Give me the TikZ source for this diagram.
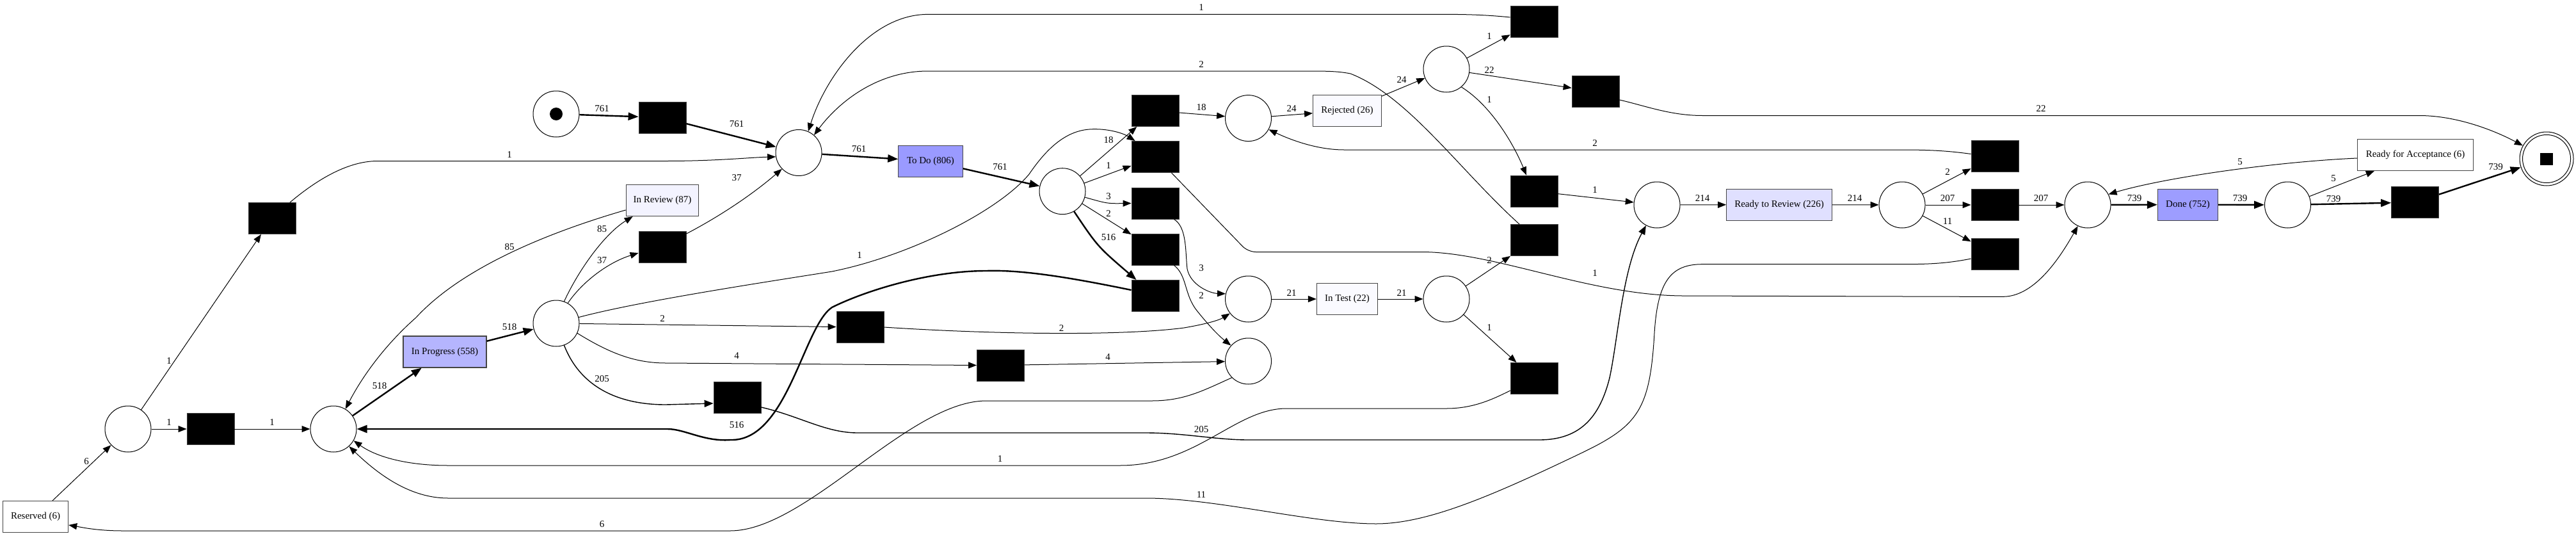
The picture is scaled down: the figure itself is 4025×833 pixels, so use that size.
\documentclass[tikz,border=0pt]{standalone}
\usepackage{fontspec}
\setmainfont{Liberation Serif}
\usetikzlibrary{arrows.meta}
\definecolor{cTodo}{HTML}{9A9AFF}
\definecolor{cDone}{HTML}{9D9DFF}
\definecolor{cProg}{HTML}{B5B5FE}
\definecolor{cRtr}{HTML}{E0E0FF}
\definecolor{cRev}{HTML}{F3F3FF}
\definecolor{cRej}{HTML}{FAFAFF}
\definecolor{cBorder}{HTML}{444444}
\tikzset{
  lblfont/.style={font=\fontsize{15}{18}\selectfont},
  place/.style={circle, draw=black, line width=1pt, minimum size=72pt, inner sep=0pt, fill=white},
  trans/.style={rectangle, fill=black, draw=black!75, line width=0.8pt, minimum width=74pt, minimum height=49pt, inner sep=0pt},
  act/.style={rectangle, draw=cBorder, line width=1.2pt, minimum height=49pt, inner sep=0pt, lblfont},
  lbl/.style={inner sep=0pt, lblfont},
  e/.style={draw=black, line width=1pt, -{Triangle[length=13pt,width=10pt]}},
  em/.style={draw=black, line width=1.4pt, -{Triangle[length=14pt,width=11pt]}},
  E/.style={draw=black, line width=2.4pt, -{Triangle[length=16pt,width=12pt]}},
}
\begin{document}
\begin{tikzpicture}[x=1pt,y=-1pt]
\useasboundingbox[fill=white] (0,0) rectangle (4025,833);

% places
\node[place] (start) at (869,178) {};
\node[circle, fill=black, minimum size=20pt, inner sep=0pt] (startdot) at (start) {};
\node[place] (pa) at (1248,238.5) {};
\node[place] (pc) at (1660,298.7) {};
\node[place] (prej) at (1950.5,184.6) {};
\node[place] (ptest) at (1950.5,467) {};
\node[place] (p4) at (1950.5,564) {};
\node[place] (prj2) at (2260,108) {};
\node[place] (pit) at (2260,467) {};
\node[place] (prr) at (2589,320) {};
\node[place] (prr2) at (2972,320) {};
\node[place] (pdone) at (3262,320) {};
\node[place] (pd2) at (3574.5,320) {};
\node[place] (pres) at (200,670) {};
\node[place] (pip) at (521,670) {};
\node[place] (pb) at (869,505) {};
\node[circle, draw=black, line width=1pt, minimum size=84pt, inner sep=0pt] (pend) at (3979,248) {};
\node[circle, draw=black, line width=1pt, minimum size=75pt, inner sep=0pt] (pendin) at (pend) {};
\node[rectangle, fill=black, minimum width=20pt, minimum height=19pt, inner sep=0pt] (pendsq) at (pend) {};

% silent transitions
\node[trans] (tstart) at (1035,183.5) {};
\node[trans] (tr1) at (1805,173) {};
\node[trans] (tr2) at (1805,245) {};
\node[trans] (tr3) at (1805,317.5) {};
\node[trans] (tr4) at (1805,389.5) {};
\node[trans] (t516) at (1805,462) {};
\node[trans] (ttop) at (2397,34) {};
\node[trans] (t22) at (2493,143) {};
\node[trans] (trj1) at (2397,298.5) {};
\node[trans] (titup) at (2397,375) {};
\node[trans] (titlow) at (2397,591) {};
\node[trans] (trrup) at (3117,243.5) {};
\node[trans] (trrmid) at (3117,320) {};
\node[trans] (trrlow) at (3117,397) {};
\node[trans] (tend) at (3773.5,316) {};
\node[trans] (t1) at (425,341) {};
\node[trans] (t2) at (329,670) {};
\node[trans] (t37) at (1035,386) {};
\node[trans] (t2b) at (1344,511) {};
\node[trans] (t4) at (1563.5,570.5) {};
\node[trans] (t205) at (1152,621) {};

% labelled transitions
\node[act, fill=cTodo, minimum width=100.4pt] (todo) at (1454,251.7) {To Do (806)};
\node[act, fill=cProg, minimum width=130pt] (inprog) at (695,549.5) {In Progress (558)};
\node[act, fill=cRev, minimum width=113.4pt] (inreview) at (1035,313) {In Review (87)};
\node[act, fill=cRej, minimum width=106.7pt] (rejected) at (2105,172.7) {Rejected (26)};
\node[act, fill=cRej, minimum width=95pt] (intest) at (2105,467) {In Test (22)};
\node[act, fill=cRtr, minimum width=164.5pt] (rtr) at (2780,319.6) {Ready to Review (226)};
\node[act, fill=cDone, minimum width=94.2pt] (done) at (3418.5,319.6) {Done (752)};
\node[act, fill=white, minimum width=180.5pt] (rfa) at (3774,242) {Ready for Acceptance (6)};
\node[act, fill=white, minimum width=102pt] (reserved) at (55.6,807) {Reserved (6)};

% arcs
\draw[E] (start) -- (tstart);
\draw[E] (tstart) -- (pa);
\draw[E] (pa) -- (todo);
\draw[E] (todo) -- (pc);
\draw[e] (pc) -- (tr1);
\draw[e] (pc) -- (tr2);
\draw[e] (pc.-15) .. controls (1730,318) .. (tr3.west);
\draw[e] (pc) -- (tr4);
\draw[E] (pc.-60) .. controls (1715,385) .. ([xshift=8pt]t516.north west);
\draw[e] (tr1) -- (prej);
\draw[e, rounded corners=12pt] ([xshift=-12pt]tr2.south east) -- (1950,393.5) -- (2209,393.5) .. controls (2330,393.5) and (2470,455) .. (2620,462) -- (3118,463.4) .. controls (3180,463) and (3220,400) .. (pdone.-115);
\draw[e] ([xshift=-8pt]tr3.south east) .. controls (1855,355) and (1852,395) .. (1855,420) .. controls (1860,445) and (1890,458) .. (ptest.167);
\draw[e] ([xshift=-8pt]tr4.south east) .. controls (1855,430) and (1850,460) .. (1870,485) .. controls (1890,510) and (1905,525) .. (p4.138);
\draw[E] ([yshift=9pt]t516.west) .. controls (1680,435) and (1600,421) .. (1541,423) .. controls (1450,423) and (1350,455) .. (1300,480) .. controls (1255,510) and (1230,690) .. (1141,687) .. controls (1100,690) and (1070,670) .. (1043,670) -- (pip.east);
\draw[e] (pb.15) .. controls (1000,470) and (1200,440) .. (1300,424) .. controls (1420,400) and (1560,330) .. (1608,272) .. controls (1630,240) and (1660,205) .. (1702,202) .. controls (1730,200) and (1755,208) .. ([xshift=6pt]tr2.north west);
\draw[e] (pb.70) .. controls (905,420) and (945,365) .. ([xshift=11pt]inreview.south west);
\draw[e] (pb.60) .. controls (910,440) and (950,410) .. ([yshift=-9pt]t37.west);
\draw[e] ([yshift=-4pt]t37.north east) .. controls (1130,335) and (1180,300) .. (pa.-136);
\draw[e] ([yshift=-15pt]inreview.west) .. controls (850,365) and (720,420) .. (650,496) .. controls (600,540) and (565,590) .. (pip.59);
\draw[E] (pip) -- (inprog);
\draw[E] (inprog) -- (pb);
\draw[e] (pb) -- (t2b);
\draw[e] (pb.-25) .. controls (950,550) and (990,567) .. (1040,567) -- (t4.west);
\draw[em] (pb.-70) .. controls (905,600) and (960,632) .. (1040,632) -- ([yshift=-9pt]t205.west);
\draw[em] ([yshift=-15pt]t205.east) .. controls (1250,650) and (1290,676) .. (1340,676) -- (1790,676) .. controls (1850,676) and (1900,687) .. (1950,687) -- (2405,687) .. controls (2470,687) and (2500,650) .. (2515,590) .. controls (2528,530) and (2535,420) .. (prr.-118);
\draw[e] (t2b.east) .. controls (1550,522) and (1750,525) .. (1850,512) .. controls (1885,506) and (1905,500) .. (ptest.-142);
\draw[e] (t4) -- (p4);
\draw[e] (p4.-135) .. controls (1880,610) and (1850,626) .. (1800,626) -- (1541,626) .. controls (1420,626) and (1260,829) .. (1141,829) -- (192,829) .. controls (150,829) and (125,823) .. ([yshift=-13pt]reserved.east);
\draw[e] (reserved) -- (pres);
\draw[e] (pres) -- (t1);
\draw[e] (pres) -- (t2);
\draw[e] (t2) -- (pip);
\draw[e] ([xshift=28pt]t1.north) .. controls (490,285) and (540,251.5) .. (590,251.5) -- (1040,251.5) .. controls (1120,251.5) and (1170,246) .. (pa.190);
\draw[e] ([yshift=7pt]ttop.west) .. controls (2330,24) and (2300,22.4) .. (2262,22.4) -- (1450,22.4) .. controls (1360,22.4) and (1290,120) .. (pa.66);
\draw[e] ([xshift=-23pt]titup.north) .. controls (2280,265) and (2200,150) .. (2110,115) .. controls (2090,111) and (2070,111) .. (2040,111) -- (1450,111) .. controls (1370,111) and (1310,160) .. (pa.49);
\draw[e] (prej) -- (rejected);
\draw[e] (rejected) -- (prj2);
\draw[e] (prj2) -- (ttop);
\draw[e] (prj2) -- (t22);
\draw[e] (prj2.-50) .. controls (2330,165) and (2365,225) .. ([xshift=-12pt]trj1.north);
\draw[e] ([yshift=-13pt]t22.east) .. controls (2570,165) and (2610,180.5) .. (2660,180.5) -- (3780,180.5) .. controls (3840,180.5) and (3900,205) .. (pend.151);
\draw[e] (trj1) -- (prr);
\draw[e] (ptest) -- (intest);
\draw[e] (intest) -- (pit);
\draw[e] (pit) -- (titup);
\draw[e] (pit) -- (titlow);
\draw[e] ([yshift=-19pt]titlow.west) .. controls (2330,625) and (2300,638) .. (2260,638) -- (2010,638) .. controls (1930,638) and (1870,727) .. (1750,727) -- (700,727) .. controls (640,727) and (590,715) .. (pip.-30);
\draw[e] ([yshift=-7pt]trrlow.west) .. controls (3040,412) and (3010,412.7) .. (2970,412.7) -- (2660,412.7) .. controls (2610,412.7) and (2590,440) .. (2585,520) .. controls (2578,640) and (2560,665) .. (2470,708) .. controls (2330,775) and (2230,818) .. (2150,818) .. controls (2050,818) and (1900,778) .. (1790,778) -- (700,778) .. controls (640,778) and (590,740) .. (pip.-48);
\draw[e] (prr) -- (rtr);
\draw[e] (rtr) -- (prr2);
\draw[e] (prr2) -- (trrup);
\draw[e] (prr2) -- (trrmid);
\draw[e] (prr2) -- (trrlow);
\draw[e] ([yshift=3pt]trrup.west) .. controls (3040,235) and (3010,234) .. (2970,234) -- (2100,234) .. controls (2060,234) and (2020,220) .. (prej.-29);
\draw[e] (trrmid) -- (pdone);
\draw[E] (pdone) -- (done);
\draw[E] (done) -- (pd2);
\draw[e] (pd2) -- (rfa);
\draw[e] ([yshift=-5pt]rfa.west) .. controls (3550,253) and (3380,278) .. (pdone.27);
\draw[E] (pd2) -- (tend);
\draw[E] (tend) -- (pend);

% arc labels
\foreach \t/\x/\y [count=\i] in {
 761/940.6/170, 761/1151/194, 761/1342/233, 761/1562.5/260.5,
 1/796/242, 37/1151/278, 85/940.6/358, 85/796/385.5, 37/940.6/407,
 518/796/511, 518/593/603, 6/135/721, 1/264/564, 1/264/660, 1/425/660,
 2/1035/497.6, 4/1151/556, 205/940.6/591.6, 516/1151/663.6, 1/1343/399,
 6/940.6/818.5, 1/1877/12, 2/1877/101, 18/1732/219, 1/1732/259, 3/1732/307,
 2/1732/333.7, 516/1732/371, 18/1877/168, 3/1877/419, 2/1877/462,
 2/1658.5/512.5, 4/1731/558, 205/1877/671, 1/1562.5/717, 11/1877/773,
 24/2018/170, 24/2190/124.4, 1/2327/57, 22/2327/109.5, 1/2327/156,
 2/2492/224, 1/2492/297, 1/2492/427, 21/2018/458, 21/2190/458,
 2/2327/407, 1/2327/511.5, 214/2660/310, 214/2898/310, 2/3043/268.5,
 207/3043/310, 11/3043/345.4, 207/3189/310, 22/3189/170,
 739/3335/310, 739/3500/310, 5/3500/253, 5/3646/278.7, 739/3646/311,
 739/3899.5/260.5}
 \node[lbl] (L\i) at (\x,\y) {\t};
\end{tikzpicture}
\end{document}
